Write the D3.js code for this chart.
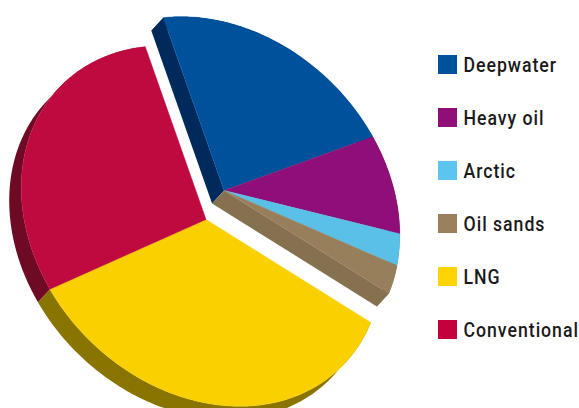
<!DOCTYPE html>
<html>
<head>
<meta charset="utf-8">
<script src="https://cdn.jsdelivr.net/npm/d3@7"></script>
<style>
  html, body { margin: 0; padding: 0; background: #fff; }
  svg { display: block; }
  text { font-family: "Roboto", sans-serif; font-weight: 500; fill: #1a1a1a; letter-spacing: 1.1px; }
</style>
</head>
<body>
<svg id="chart" width="579" height="408"></svg>
<script>
// Share of resources by category, clockwise from the Deepwater wedge
const categories = ["Deepwater", "Heavy oil", "Arctic", "Oil sands", "LNG", "Conventional"];
const shares = [22.2, 9, 3, 2.8, 34.2, 28.8];
// Categories pulled out together from the rest of the pie
const pulledOut = ["Deepwater", "Heavy oil", "Arctic", "Oil sands"];

const topColors = ["#00519b", "#8f0e77", "#5bc0e8", "#987f5c", "#fbd000", "#bf0a3f"];
const wallColors = ["#002a5c", "#5a0a4c", "#3a7f9c", "#857150", "#8a7400", "#6f0a25"];
const swatchColors = ["#00519b", "#8f0e77", "#5bc5f0", "#9a815b", "#ffd400", "#c4003d"];

const svg = d3.select("#chart");
const topColor = d3.scaleOrdinal(categories, topColors);
const wallColor = d3.scaleOrdinal(categories, wallColors);
const swatchColor = d3.scaleOrdinal(categories, swatchColors);

// Tilted disc: ellipse radii and axis direction, plus the perspective shift of the hub
const centre = [201.5, 226];
const radiusMajor = 198.5, radiusMinor = 160, axisCos = Math.SQRT1_2;
const hub = [-0.007, 0.049];
const startBearing = 149.2 * Math.PI / 180;
const pullOffset = [18, -29];
const depth = [-12, 13];

// Projective map of the unit disc onto itself that carries 0 to the hub
function shiftDisc(u) {
  const pp = hub[0] * hub[0] + hub[1] * hub[1];
  const pu = hub[0] * u[0] + hub[1] * u[1];
  const par = [hub[0] * pu / pp, hub[1] * pu / pp];
  const k = Math.sqrt(1 - pp);
  return [
    (hub[0] + par[0] + k * (u[0] - par[0])) / (1 + pu),
    (hub[1] + par[1] + k * (u[1] - par[1])) / (1 + pu)
  ];
}

function toScreen(u) {
  const v = shiftDisc(u);
  const a = radiusMajor * v[0] * axisCos, b = radiusMinor * v[1] * axisCos;
  return [centre[0] + a + b, centre[1] + a - b];
}

const rimPoint = a => {
  const phi = startBearing - a;
  return toScreen([Math.cos(phi), Math.sin(phi)]);
};

const pie = d3.pie().sort(null).value(d => d.share);
const slices = pie(categories.map((name, i) => ({ name, share: shares[i] })));

const outline = d3.line().curve(d3.curveLinear);
const shift = (p, o) => [p[0] + o[0], p[1] + o[1]];

const wedges = slices.map(s => {
  const steps = Math.max(2, Math.ceil((s.endAngle - s.startAngle) / (Math.PI / 180)));
  const rim = d3.range(steps + 1).map(i =>
    rimPoint(s.startAngle + (s.endAngle - s.startAngle) * i / steps));
  const offset = pulledOut.includes(s.data.name) ? pullOffset : [0, 0];
  return {
    name: s.data.name,
    apex: shift(toScreen([0, 0]), offset),
    rim: rim.map(p => shift(p, offset))
  };
});

const under = p => shift(p, depth);

// Side walls sit beneath the wedge tops
const walls = svg.append("g");
wedges.forEach(w => {
  const band = w.rim.concat(w.rim.map(under).reverse());
  walls.append("path").attr("d", outline(band) + "Z").attr("fill", wallColor(w.name));
  const first = w.rim[0], last = w.rim[w.rim.length - 1];
  if (w.name === "Deepwater") {
    walls.append("path")
      .attr("d", outline([w.apex, first, under(first), under(w.apex)]) + "Z")
      .attr("fill", wallColor(w.name));
  }
  if (w.name === "Oil sands") {
    walls.append("path")
      .attr("d", outline([w.apex, last, under(last), under(w.apex)]) + "Z")
      .attr("fill", wallColor(w.name));
  }
});

svg.append("g").selectAll("path")
  .data(wedges)
  .join("path")
  .attr("d", w => outline([w.apex].concat(w.rim)) + "Z")
  .attr("fill", w => topColor(w.name))
  .attr("stroke", w => topColor(w.name))
  .attr("stroke-width", 0.4);

// Legend
const legendRow = d3.scalePoint(categories, [55, 320]);
const legend = svg.append("g").selectAll("g")
  .data(categories)
  .join("g")
  .attr("transform", d => `translate(438,${legendRow(d)})`);

legend.append("rect")
  .attr("width", 19).attr("height", 19)
  .attr("fill", d => swatchColor(d));

// Labels are set tall and narrow
legend.append("text")
  .attr("transform", "translate(25.5,17.3) scale(0.885,1)")
  .attr("font-size", 20)
  .text(d => d);
</script>
</body>
</html>
